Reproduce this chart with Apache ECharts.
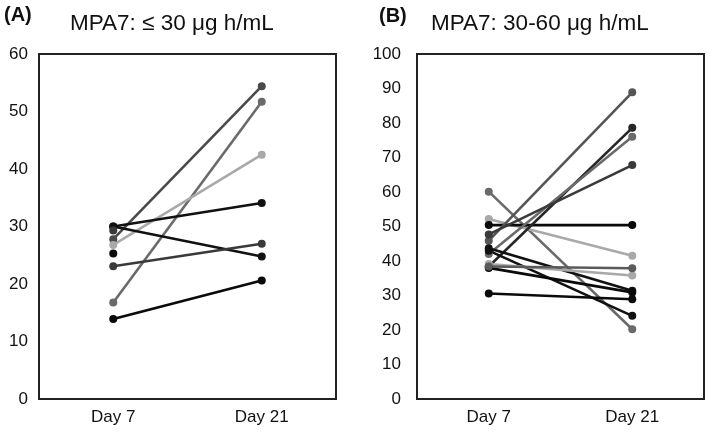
<!DOCTYPE html>
<html>
<head>
<meta charset="utf-8">
<script src="https://cdn.jsdelivr.net/npm/echarts@6/dist/echarts.min.js"></script>
<style>
html,body{margin:0;padding:0;background:#fff;}
#chart{width:709px;height:434px;}
</style>
</head>
<body>
<div id="chart"></div>
<script>
// ---- data ----
const categories = ['Day 7', 'Day 21'];
const panelLabels = ['(A)', '(B)'];
const panelTitles = ['MPA7: \u2264 30 \u03bcg h/mL', 'MPA7: 30-60 \u03bcg h/mL'];
const yTicksA = [0, 10, 20, 30, 40, 50, 60];
const yTicksB = [0, 10, 20, 30, 40, 50, 60, 70, 80, 90, 100];

// Panel A: one entry per patient
const aDay7  = [27.8, 16.8, 26.8, 30.0, 30.0, 23.1, 13.9, 25.3, 29.3];
const aDay21 = [54.4, 51.7, 42.5, 34.1, 24.8, 27.0, 20.6, null, null];

// Panel B: one entry per patient
const bDay7  = [60.1, 52.2, 50.4, 45.9, 38.4, 42.0, 47.7, 43.7, 43.0, 38.0, 30.6, 39.1, 38.4];
const bDay21 = [20.2, 41.5, 50.4, 88.9, 78.6, 76.0, 67.8, 31.4, 24.1, 30.9, 28.9, 35.8, 37.9];

// ---- styles ----
const shadesA = ['#4a4a4a', '#6a6a6a', '#a9a9a9', '#111111', '#111111', '#3a3a3a', '#0a0a0a', '#0a0a0a', '#3a3a3a'];
const shadesB = ['#6a6a6a', '#a9a9a9', '#0a0a0a', '#555555', '#262626', '#6a6a6a', '#3a3a3a', '#111111', '#111111', '#0a0a0a', '#0a0a0a', '#a9a9a9', '#5a5a5a'];

const FONT = '"Liberation Sans", Arial, sans-serif';

function buildSeries(d7, d21, shades, axisIdx) {
  return d7.map((v, i) => ({
    type: 'line',
    xAxisIndex: axisIdx,
    yAxisIndex: axisIdx,
    data: [v, d21[i]],
    symbol: 'circle',
    symbolSize: 8,
    showSymbol: true,
    connectNulls: false,
    lineStyle: { color: shades[i], width: 2.6 },
    itemStyle: { color: shades[i] },
    animation: false,
    silent: true
  }));
}

function yAxis(idx, ticks, margin) {
  return {
    type: 'value',
    gridIndex: idx,
    min: ticks[0],
    max: ticks[ticks.length - 1],
    interval: ticks[1] - ticks[0],
    axisLine: { show: false },
    axisTick: { show: false },
    splitLine: { show: false },
    axisLabel: { color: '#111', fontSize: 17, fontFamily: FONT, margin: margin }
  };
}

function xAxis(idx) {
  return {
    type: 'category',
    gridIndex: idx,
    data: categories,
    boundaryGap: true,
    axisLine: { show: false },
    axisTick: { show: false },
    splitLine: { show: false },
    axisLabel: { color: '#111', fontSize: 17, fontFamily: FONT, margin: 10 }
  };
}

const chart = echarts.init(document.getElementById('chart'), null, { renderer: 'canvas' });
chart.setOption({
  backgroundColor: '#fff',
  animation: false,
  title: [
    { text: panelLabels[0], left: 4, top: 5, padding: 0, textStyle: { fontFamily: FONT, fontSize: 20, fontWeight: 'bold', color: '#111' } },
    { text: panelTitles[0], left: 70, top: 12, padding: 0, textStyle: { fontFamily: FONT, fontSize: 22.5, fontWeight: 'normal', color: '#111' } },
    { text: panelLabels[1], left: 379, top: 6, padding: 0, textStyle: { fontFamily: FONT, fontSize: 20, fontWeight: 'bold', color: '#111' } },
    { text: panelTitles[1], left: 431, top: 12, padding: 0, textStyle: { fontFamily: FONT, fontSize: 22.5, fontWeight: 'normal', color: '#111' } }
  ],
  grid: [
    { left: 39, top: 54, width: 297, height: 345, show: true, borderColor: '#222', borderWidth: 2, backgroundColor: 'transparent' },
    { left: 417, top: 54, width: 287, height: 345, show: true, borderColor: '#222', borderWidth: 2, backgroundColor: 'transparent' }
  ],
  xAxis: [xAxis(0), xAxis(1)],
  yAxis: [yAxis(0, yTicksA, 11), yAxis(1, yTicksB, 16)],
  series: buildSeries(aDay7, aDay21, shadesA, 0).concat(buildSeries(bDay7, bDay21, shadesB, 1))
});
</script>
</body>
</html>
